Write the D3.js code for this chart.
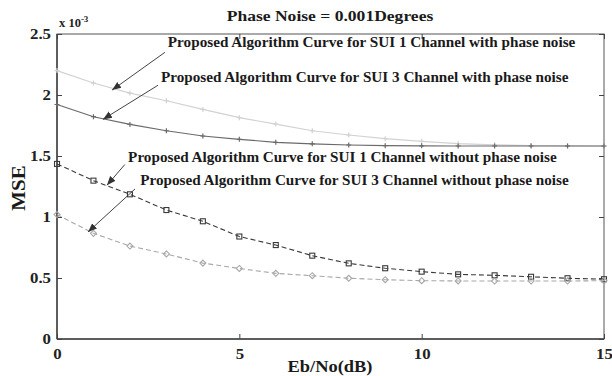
<!DOCTYPE html>
<html>
<head>
<meta charset="utf-8">
<script src="https://cdn.jsdelivr.net/npm/d3@7"></script>
<style>
html,body{margin:0;padding:0;background:#fff;}
svg text{font-family:"Liberation Serif","Times New Roman",serif;font-weight:bold;}
</style>
</head>
<body>
<svg id="c" width="612" height="376"></svg>
<script>
const xValues = [0,1,2,3,4,5,6,7,8,9,10,11,12,13,14,15];
const sui1Phase   = [2.200,2.098,2.016,1.953,1.882,1.814,1.762,1.707,1.672,1.642,1.620,1.602,1.592,1.586,1.583,1.582];
const sui3Phase   = [1.922,1.822,1.759,1.707,1.664,1.637,1.612,1.600,1.590,1.585,1.583,1.582,1.582,1.582,1.582,1.582];
const sui1NoPhase = [1.435,1.298,1.186,1.057,0.965,0.840,0.770,0.683,0.620,0.580,0.552,0.530,0.522,0.510,0.498,0.490];
const sui3NoPhase = [1.020,0.866,0.762,0.697,0.622,0.578,0.538,0.519,0.498,0.486,0.478,0.476,0.475,0.475,0.475,0.478];
const xTicks = [0,5,10,15];
const yTicks = [0,0.5,1,1.5,2,2.5];
const yTickLabels = ["0","0.5","1","1.5","2","2.5"];
const titleText = "Phase Noise = 0.001Degrees";
const xLabel = "Eb/No(dB)";
const yLabel = "MSE";
const annotations = [
  {text:"Proposed Algorithm Curve for SUI 1 Channel with phase noise", tx:3.04, ty:2.39, ax0:2.96, ay0:2.35, ax1:1.51, ay1:2.04},
  {text:"Proposed Algorithm Curve for SUI 3 Channel with phase noise", tx:2.85, ty:2.107, ax0:2.77, ay0:2.08, ax1:1.26, ay1:1.80},
  {text:"Proposed Algorithm Curve for SUI 1 Channel without phase noise", tx:1.95, ty:1.45, ax0:1.86, ay0:1.43, ax1:1.37, ay1:1.26},
  {text:"Proposed Algorithm Curve for SUI 3 Channel without phase noise", tx:2.28, ty:1.262, ax0:2.14, ay0:1.23, ax1:0.85, ay1:0.877}
];

const svg = d3.select("#c");
const L=57, R=604, T=34, B=339;
const x = d3.scaleLinear().domain([0,15]).range([L,R]);
const y = d3.scaleLinear().domain([0,2.5]).range([B,T]);

function stretch(sel, f){
  sel.each(function(){
    const w = this.getComputedTextLength();
    d3.select(this).attr("textLength", w*f).attr("lengthAdjust","spacingAndGlyphs");
  });
}

svg.append("defs").append("marker")
  .attr("id","ah").attr("viewBox","0 0 10 10").attr("refX",10).attr("refY",5)
  .attr("markerWidth",9).attr("markerHeight",9).attr("orient","auto-start-reverse")
  .attr("markerUnits","userSpaceOnUse")
  .append("path").attr("d","M0,1 L10,5 L0,9 Z").attr("fill","#333");

svg.append("rect").attr("x",L).attr("y",T).attr("width",R-L).attr("height",B-T)
  .attr("fill","none").attr("stroke","#555").attr("stroke-width",1);

function styleAxis(g){
  g.select(".domain").remove();
  g.selectAll(".tick line").attr("stroke","#444");
  g.selectAll(".tick text").attr("fill","#222").style("font-size","14px").style("font-weight","bold")
   .style("font-family","'Liberation Serif',serif");
}
const gx = svg.append("g").attr("transform",`translate(0,${B})`)
  .call(d3.axisBottom(x).tickValues(xTicks).tickFormat(d3.format("d")).tickSizeInner(-5).tickPadding(10));
styleAxis(gx);
const gxt = svg.append("g").attr("transform",`translate(0,${T})`)
  .call(d3.axisTop(x).tickValues(xTicks).tickSizeInner(-5).tickFormat(""));
styleAxis(gxt);
const gy = svg.append("g").attr("transform",`translate(${L},0)`)
  .call(d3.axisLeft(y).tickValues(yTicks).tickFormat((d,i)=>yTickLabels[i]).tickSizeInner(-5).tickPadding(6));
styleAxis(gy);
const gyr = svg.append("g").attr("transform",`translate(${R},0)`)
  .call(d3.axisRight(y).tickValues(yTicks).tickSizeInner(-5).tickFormat(""));
styleAxis(gyr);
stretch(gx.selectAll(".tick text"),1.2);
stretch(gy.selectAll(".tick text"),1.2);

svg.append("line").attr("x1",L).attr("x2",L).attr("y1",T).attr("y2",B).attr("stroke","#444").attr("stroke-width",1.5);
svg.append("line").attr("x1",L).attr("x2",R).attr("y1",B).attr("y2",B).attr("stroke","#444").attr("stroke-width",1.5);

const ex = svg.append("text").attr("x",L+2).attr("y",T-7).attr("fill","#222").style("font-size","12.5px");
ex.append("tspan").text("x 10");
ex.append("tspan").attr("dy",-5).style("font-size","9px").text("-3");

const series = [
  {vals:sui1Phase, color:"#d2d2d2", dash:null, marker:"plus", width:1.2},
  {vals:sui3Phase, color:"#6a6a6a", dash:null, marker:"plus", width:1.2},
  {vals:sui1NoPhase, color:"#3a3a3a", dash:"5,3", marker:"square", width:1.1},
  {vals:sui3NoPhase, color:"#a8a8a8", dash:"5,3", marker:"diamond", width:1.1}
];
const line = d3.line().x((d,i)=>x(xValues[i])).y(d=>y(d));
series.forEach(s=>{
  svg.append("path").datum(s.vals).attr("d",line).attr("fill","none")
    .attr("stroke",s.color).attr("stroke-width",s.width).attr("stroke-dasharray",s.dash);
  const g = svg.append("g");
  s.vals.forEach((v,i)=>{
    const cx=x(xValues[i]), cy=y(v);
    if(s.marker==="plus"){
      g.append("path").attr("d",`M${cx-2.5},${cy}H${cx+2.5}M${cx},${cy-2.5}V${cy+2.5}`)
        .attr("stroke",s.color).attr("stroke-width",1.2);
    } else if(s.marker==="square"){
      g.append("rect").attr("x",cx-2.5).attr("y",cy-2.5).attr("width",5).attr("height",5)
        .attr("fill","none").attr("stroke",s.color).attr("stroke-width",1.1);
    } else {
      g.append("path").attr("d",`M${cx},${cy-3}L${cx+3},${cy}L${cx},${cy+3}L${cx-3},${cy}Z`)
        .attr("fill","none").attr("stroke",s.color).attr("stroke-width",1.1);
    }
  });
});

annotations.forEach(a=>{
  const t = svg.append("text").attr("x",x(a.tx)).attr("y",y(a.ty)).attr("fill","#1a1a1a")
    .style("font-size","14px").text(a.text);
  stretch(t,1.085);
  svg.append("line").attr("x1",x(a.ax0)).attr("y1",y(a.ay0)).attr("x2",x(a.ax1)).attr("y2",y(a.ay1))
    .attr("stroke","#444").attr("stroke-width",1).attr("marker-end","url(#ah)");
});

const tt = svg.append("text").attr("x",330).attr("y",21).attr("text-anchor","middle").attr("fill","#1a1a1a")
  .style("font-size","15px").text(titleText);
stretch(tt,1.17);
const xl = svg.append("text").attr("x",330).attr("y",372).attr("text-anchor","middle").attr("fill","#1a1a1a")
  .style("font-size","16px").text(xLabel);
stretch(xl,1.15);
const yl = svg.append("text").attr("transform","translate(25,188) rotate(-90)").attr("text-anchor","middle").attr("fill","#1a1a1a")
  .style("font-size","19px").text(yLabel);
stretch(yl,1.1);
</script>
</body>
</html>
